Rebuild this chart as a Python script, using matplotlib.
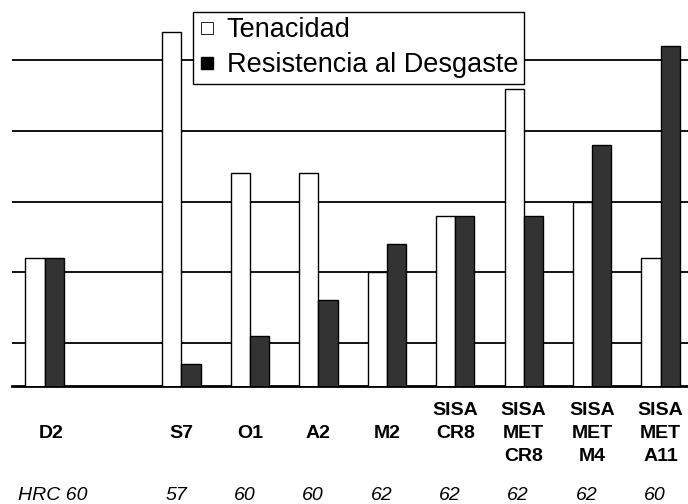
import matplotlib.pyplot as plt
from matplotlib.lines import Line2D
from matplotlib.transforms import blended_transform_factory

# categories (position 1 is an empty slot in the original chart)
categorias = ["\nD2", "\nS7", "\nO1", "\nA2", "\nM2", "SISA\nCR8",
              "SISA\nMET\nCR8", "SISA\nMET\nM4", "SISA\nMET\nA11"]
posiciones = [0, 2, 3, 4, 5, 6, 7, 8, 9]
dureza = ["HRC 60", "57", "60", "60", "62", "62", "62", "62", "60"]

tenacidad = [2.2, 5.4, 3.4, 3.4, 2.0, 2.8, 4.6, 3.0, 2.2]
desgaste = [2.2, 0.7, 1.1, 1.6, 2.4, 2.8, 2.8, 3.8, 5.2]

plt.rcParams['font.family'] = ['Liberation Sans', 'DejaVu Sans']

fig = plt.figure(figsize=(6.88, 5.04), dpi=100)
ax = fig.add_axes([0.017, 0.234, 0.983, 0.766])

ancho = 0.28
x_t = [p - ancho / 2 for p in posiciones]
x_d = [p + ancho / 2 for p in posiciones]
ax.bar(x_t, tenacidad, width=ancho, color='white', edgecolor='black',
       linewidth=1.0, zorder=3)
ax.bar(x_d, desgaste, width=ancho, color='#333333', edgecolor='black',
       linewidth=1.0, zorder=3)

ax.set_xlim(-0.48, 9.4)
ax.set_ylim(0.387, 5.854)
ax.set_yticks([1, 2, 3, 4, 5])
ax.set_xticks([])
ax.tick_params(axis='y', length=0, labelleft=False)
ax.grid(axis='y', color='black', linewidth=1.3, zorder=1)
ax.set_axisbelow(True)
for s in ['left', 'right', 'top']:
    ax.spines[s].set_visible(False)
ax.spines['bottom'].set_linewidth(2)

# labels below the chart
tr = blended_transform_factory(ax.transData, fig.transFigure)
for p, lab in zip(posiciones, categorias):
    xp = p + 0.1 if p == 0 else p
    ax.text(xp, 1 - 402 / 504, lab, transform=tr, ha='center', va='top',
            fontsize=14, fontweight='bold', linespacing=1.48)
for p, d in zip(posiciones, dureza):
    xp = p + 0.12 if p == 0 else p - 0.08
    ax.text(xp, 1 - 495 / 504, d, transform=tr, ha='center', va='center',
            fontsize=14, fontstyle='italic')

handles = [
    Line2D([], [], linestyle='none', marker='s', markersize=8,
           markerfacecolor='white', markeredgecolor='black', markeredgewidth=0.6),
    Line2D([], [], linestyle='none', marker='s', markersize=8.5,
           markerfacecolor='black', markeredgecolor='black'),
]
leg = fig.legend(handles, ['Tenacidad', 'Resistencia al Desgaste'],
                 loc='upper left', bbox_to_anchor=(193 / 688, 1 - 12 / 504),
                 fontsize=19.5, frameon=True, fancybox=False, framealpha=1,
                 edgecolor='black', handlelength=0.6, handletextpad=0.45,
                 borderpad=0.2, labelspacing=0.33, borderaxespad=0)
leg.get_frame().set_linewidth(1.0)

fig.savefig('out.png', dpi=100)
